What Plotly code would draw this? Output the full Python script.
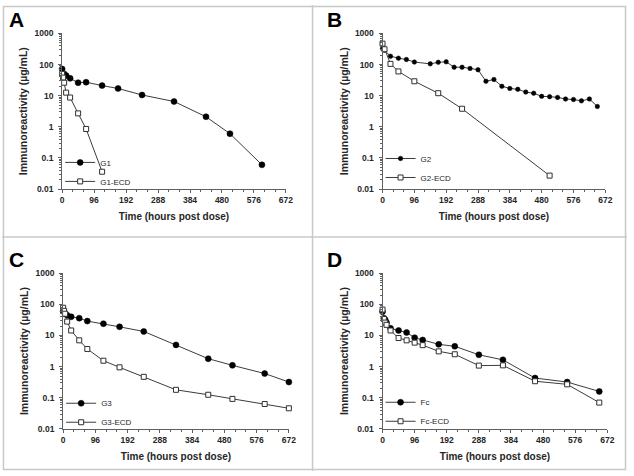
import plotly.graph_objects as go

# ---------------- data ----------------
# Panel A
g1_t = [0, 6, 12, 24, 48, 72, 120, 168, 240, 336, 432, 504, 600]
g1_y = [72, 50, 44, 36, 26, 27, 21, 17, 10.5, 6.5, 2.1, 0.6, 0.06]
g1ecd_t = [0, 3, 6, 12, 24, 48, 72, 120]
g1ecd_y = [50, 38, 26, 12.5, 8.7, 2.7, 0.85, 0.036]

# Panel B
g2_t = [0, 6, 24, 48, 72, 96, 144, 168, 192, 216, 240, 264, 288, 312, 336,
        360, 384, 408, 432, 456, 480, 504, 528, 552, 576, 600, 624, 648]
g2_y = [330, 290, 185, 160, 145, 120, 105, 118, 122, 82, 82, 75, 68, 29, 33,
        20, 17, 16, 13, 12, 9.5, 9.3, 8.8, 7.8, 7.5, 6.8, 7.8, 4.5]
g2ecd_t = [0, 6, 24, 48, 96, 168, 240, 504]
g2ecd_y = [470, 310, 105, 60, 29, 12, 3.8, 0.027]

# Panel C
g3_t = [0, 6, 12, 24, 48, 72, 120, 168, 240, 336, 432, 504, 600, 672]
g3_y = [60, 50, 45, 40, 36, 29, 24, 19, 13.5, 5.0, 1.8, 1.1, 0.6, 0.32]
g3ecd_t = [0, 3, 6, 12, 24, 48, 72, 120, 168, 240, 336, 432, 504, 600, 672]
g3ecd_y = [78, 62, 50, 28, 14.5, 7.0, 3.7, 1.55, 0.95, 0.47, 0.18, 0.125,
           0.092, 0.063, 0.046]

# Panel D
fc_t = [0, 4, 8, 12, 24, 48, 72, 96, 120, 168, 216, 288, 360, 456, 552, 648]
fc_y = [58, 36, 32, 26, 17, 14.5, 12.5, 8.5, 7.2, 5.2, 4.5, 2.4, 1.65, 0.43,
        0.32, 0.16]
fcecd_t = [0, 4, 8, 12, 24, 48, 72, 96, 120, 168, 216, 288, 360, 456, 552, 648]
fcecd_y = [68, 34, 26, 22, 14.5, 8.3, 7.0, 5.9, 4.9, 3.1, 2.5, 1.08, 1.1, 0.34,
           0.27, 0.07]

panel_letters = ["A", "B", "C", "D"]
x_ticks = [0, 96, 192, 288, 384, 480, 576, 672]
y_ticks = [0.01, 0.1, 1, 10, 100, 1000]
y_ticktext = ["0.01", "0.1", "1", "10", "100", "1000"]
x_title = "Time (hours post dose)"
y_title = "Immunoreactivity (µg/mL)"

# ---------------- layout geometry ----------------
W, H = 634, 476
FONT = "Liberation Sans, Arial, sans-serif"
LINE = "#3c3c3c"
AXC = "#606060"
TXT = "#262626"

# plot areas in pixels: (left, right, top, bottom)
areas = [
    (61, 288, 29, 188),
    (386, 612, 29, 188),
    (62, 291, 274, 433),
    (386, 614, 274, 433),
]
legend_drop = [7, 3, 8, 7]

series = [
    (("G1", g1_t, g1_y), ("G1-ECD", g1ecd_t, g1ecd_y), 6),
    (("G2", g2_t, g2_y), ("G2-ECD", g2ecd_t, g2ecd_y), 4.5),
    (("G3", g3_t, g3_y), ("G3-ECD", g3ecd_t, g3ecd_y), 6),
    (("Fc", fc_t, fc_y), ("Fc-ECD", fcecd_t, fcecd_y), 6),
]

fig = go.Figure()

x_minor = [v for v in range(0, 673, 32) if v % 96 != 0]
y_minor = [k * 10.0 ** d for d in range(-2, 3) for k in range(2, 10)]

for i, ((n1, t1, y1), (n2, t2, y2), msize) in enumerate(series):
    idx = "" if i == 0 else str(i + 1)
    xa, ya = "x" + idx, "y" + idx
    leg = "legend" + idx
    fig.add_trace(go.Scatter(
        x=t1, y=y1, name=n1, mode="lines+markers", xaxis=xa, yaxis=ya,
        legend=leg, cliponaxis=False,
        line=dict(color=LINE, width=1),
        marker=dict(symbol="circle", size=msize, color="#000000",
                    line=dict(color="#000000", width=0.5)),
    ))
    fig.add_trace(go.Scatter(
        x=t2, y=y2, name=n2, mode="lines+markers", xaxis=xa, yaxis=ya,
        legend=leg, cliponaxis=False,
        line=dict(color=LINE, width=1),
        marker=dict(symbol="square", size=5, color="#ffffff",
                    line=dict(color="#303030", width=1)),
    ))

    l, r, t, b = areas[i]
    dom_x = [l / W, r / W]
    dom_y = [1 - b / H, 1 - t / H]
    fig.layout["xaxis" + idx] = dict(
        domain=dom_x, anchor=ya, range=[0, 672], tickmode="array",
        tickvals=x_ticks, ticks="outside", ticklen=3, tickwidth=1,
        tickcolor=AXC, showline=True, linecolor=AXC, linewidth=1,
        showgrid=False, zeroline=False,
        tickfont=dict(family=FONT, size=8.5, color=TXT, weight="bold"),
        minor=dict(tickmode="array", tickvals=x_minor, ticks="outside",
                   ticklen=2, tickwidth=1, tickcolor=AXC, showgrid=False),
        title=dict(text=x_title, standoff=8,
                   font=dict(family=FONT, size=10, color=TXT, weight="bold")),
    )
    fig.layout["yaxis" + idx] = dict(
        domain=dom_y, anchor=xa, type="log", range=[-2, 3], tickmode="array",
        tickvals=y_ticks, ticktext=y_ticktext, ticks="outside", ticklen=3,
        tickwidth=1, tickcolor=AXC, showline=True, linecolor=AXC,
        linewidth=1, showgrid=False, zeroline=False, ticklabelstandoff=3,
        tickfont=dict(family=FONT, size=8.5, color=TXT, weight="bold"),
        minor=dict(tickmode="array", tickvals=y_minor, ticks="outside",
                   ticklen=2, tickwidth=1, tickcolor=AXC, showgrid=False),
        title=dict(text=y_title, standoff=4,
                   font=dict(family=FONT, size=10.5, color=TXT, weight="bold")),
    )
    fig.layout[leg] = dict(
        x=(l - 2) / W, y=1 - (b + legend_drop[i]) / H,
        xanchor="left", yanchor="bottom",
        bgcolor="rgba(0,0,0,0)", borderwidth=0, itemwidth=30,
        tracegroupgap=0,
        font=dict(family=FONT, size=8, color=TXT),
    )

# panel letters
letter_pos = [(5, 15), (328, 15), (5, 260), (328, 260)]
for letter, (px, py) in zip(panel_letters, letter_pos):
    fig.add_annotation(
        x=px / W, y=1 - py / H, xref="paper", yref="paper",
        xanchor="left", yanchor="middle", showarrow=False, text=letter,
        font=dict(family=FONT, size=21, color="#000000", weight="bold"),
    )

# panel frames
frame = "#c8c8c8"
fig.add_shape(type="rect", xref="paper", yref="paper",
              x0=1.5 / W, x1=1 - 1.5 / W, y0=1.5 / H, y1=1 - 1.5 / H,
              line=dict(color=frame, width=1.5))
fig.add_shape(type="line", xref="paper", yref="paper",
              x0=315 / W, x1=315 / W, y0=0, y1=1,
              line=dict(color=frame, width=1.5))
fig.add_shape(type="line", xref="paper", yref="paper",
              x0=0, x1=1, y0=1 - 237 / H, y1=1 - 237 / H,
              line=dict(color=frame, width=1.5))

fig.update_layout(
    width=W, height=H, autosize=False,
    margin=dict(l=0, r=0, t=0, b=0),
    paper_bgcolor="#ffffff", plot_bgcolor="#ffffff",
    font=dict(family=FONT, color=TXT),
    showlegend=True,
)

fig.write_html(
    "out.html",
    config={"displayModeBar": False},
    post_script="document.body.style.margin='0';"
                "document.body.style.overflow='hidden';",
)
